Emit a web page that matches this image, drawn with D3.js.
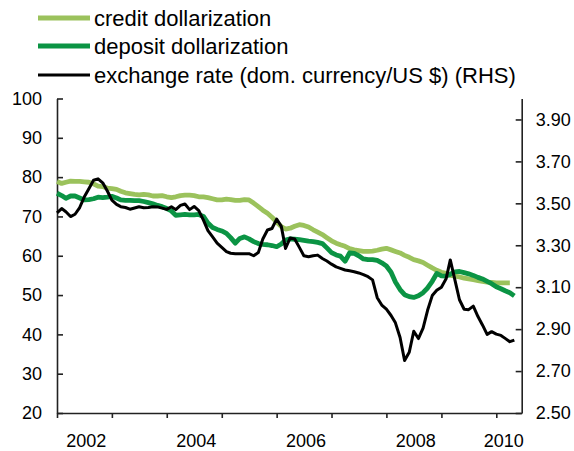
<!DOCTYPE html>
<html>
<head>
<meta charset="utf-8">
<script src="https://cdn.jsdelivr.net/npm/d3@7"></script>
<style>
    body { margin: 0; background: #fff; }
    text { font-family: "Liberation Sans", Arial, sans-serif; fill: #000; }
</style>
</head>
<body>
<svg id="chart" width="574" height="451"></svg>
<script>
(function (d3) {

    // monthly series, first value = Jan 2002
    var startMonth = new Date(2002, 0, 1);

    var creditDollarization = [
        78.9, 78.4, 78.7, 79.0, 78.9, 78.9, 78.8, 78.7, 78.3, 77.7,
        77.6, 77.2, 77.1, 76.9, 76.4, 76.0, 75.8, 75.6, 75.5, 75.6,
        75.5, 75.2, 75.2, 75.3, 75.0, 74.8, 75.0, 75.3, 75.4, 75.4,
        75.3, 75.0, 75.0, 74.8, 74.5, 74.2, 74.2, 74.4, 74.3, 74.1,
        74.1, 74.3, 74.2, 73.4, 72.5, 71.6, 70.8, 69.8, 68.6, 67.4,
        66.8, 67.0, 67.5, 67.9, 67.7, 67.3, 66.6, 66.0, 65.4, 64.6,
        63.8, 63.2, 62.8, 62.4, 61.8, 61.5, 61.3, 61.1, 61.1, 61.2,
        61.4, 61.7, 61.9, 61.5, 61.1, 60.7, 60.1, 59.6, 59.0, 58.7,
        58.3, 57.6, 56.9, 56.3, 55.8, 55.5, 55.0, 54.8, 54.6, 54.3,
        54.1, 53.9, 53.7, 53.5, 53.3, 53.2, 53.1, 53.1, 53.1, 53.1
    ];

    var depositDollarization = [
        75.9, 75.3, 74.6, 75.2, 75.2, 74.7, 74.2, 74.3, 74.5, 74.9,
        74.8, 74.9, 75.1, 74.7, 74.2, 74.1, 74.1, 74.0, 74.0, 73.8,
        73.5, 73.2, 72.8, 72.5, 72.0, 71.4, 70.3, 70.4, 70.5, 70.4,
        70.4, 70.5, 70.0, 68.3, 67.2, 66.7, 66.3, 65.7, 64.6, 63.2,
        64.4, 64.8, 64.3, 63.6, 63.1, 62.9, 62.8, 62.6, 62.3, 63.0,
        64.0, 64.3, 64.2, 64.1, 63.9, 63.7, 63.6, 63.4, 63.1, 62.0,
        60.8, 60.2, 59.9, 58.6, 60.7, 60.6, 60.0, 59.2, 59.0, 59.0,
        58.8, 58.2, 57.4, 55.8, 53.3, 51.4, 50.1, 49.6, 49.4, 49.8,
        50.6, 51.8, 53.5, 55.5, 54.9, 54.8, 55.3, 55.9, 56.0, 55.7,
        55.4, 55.0, 54.5, 54.1, 53.5, 52.9, 52.1, 51.6, 51.1, 50.6,
        49.8
    ];

    var exchangeRate = [
        3.455, 3.475, 3.46, 3.437, 3.448, 3.48, 3.53, 3.57, 3.61, 3.617,
        3.598, 3.56, 3.515, 3.495, 3.484, 3.48, 3.472, 3.478, 3.484, 3.479,
        3.48, 3.484, 3.483, 3.477, 3.471, 3.484, 3.47, 3.49, 3.497, 3.47,
        3.485, 3.465, 3.42, 3.37, 3.34, 3.31, 3.29, 3.27, 3.262, 3.26,
        3.26, 3.26, 3.26, 3.25, 3.265, 3.33, 3.373, 3.38, 3.425, 3.39,
        3.285, 3.335, 3.33, 3.29, 3.25, 3.245, 3.25, 3.253, 3.237, 3.225,
        3.21, 3.197, 3.19, 3.182, 3.178, 3.174, 3.168, 3.16, 3.15, 3.135,
        3.05, 3.015, 2.995, 2.965, 2.93, 2.86, 2.75, 2.79, 2.89, 2.855,
        2.905, 2.99, 3.06, 3.085, 3.1, 3.14, 3.23, 3.134, 3.04, 2.995,
        2.993, 3.01, 2.96, 2.92, 2.875, 2.888, 2.876, 2.87, 2.856, 2.84,
        2.848
    ];

    var leftTicks = [20, 30, 40, 50, 60, 70, 80, 90, 100];
    var rightTicks = [2.5, 2.7, 2.9, 3.1, 3.3, 3.5, 3.7, 3.9];
    var yearTicks = [2002, 2003, 2004, 2005, 2006, 2007, 2008, 2009, 2010];
    var yearLabels = [2002, 2004, 2006, 2008, 2010];

    var legendLabels = ['credit dollarization', 'deposit dollarization', 'exchange rate (dom. currency/US $) (RHS)'];
    var legendColors = ['#9bc25c', '#0b9444', '#000000'];
    var legendWidths = [4.8, 4.8, 3];

    var left = 57, right = 521.7, top = 98.5, bottom = 413;

    var svg = d3.select('#chart');

    var xScale = d3.scaleTime()
        .domain([startMonth, new Date(2010, 5, 19)])
        .range([left, right]);
    var yLeft = d3.scaleLinear().domain([20, 100]).range([bottom, top]);
    var yRight = d3.scaleLinear().domain([2.5, 4.0]).range([bottom, top]);

    function toPoints(values) {
        return values.map(function (v, i) {
            return { date: d3.timeMonth.offset(startMonth, i), value: v };
        });
    }

    // axes
    var xAxis = d3.axisBottom(xScale)
        .tickValues(yearTicks.map(function (y) { return new Date(y, 0, 1); }))
        .tickSizeInner(5)
        .tickSizeOuter(0)
        .tickFormat('');

    var leftAxis = d3.axisLeft(yLeft)
        .tickValues(leftTicks)
        .tickSizeInner(-6)
        .tickSizeOuter(0)
        .tickPadding(15);

    var rightAxis = d3.axisRight(yRight)
        .tickValues(rightTicks)
        .tickSizeInner(-6)
        .tickSizeOuter(0)
        .tickPadding(14)
        .tickFormat(d3.format('.2f'));

    svg.append('g')
        .attr('class', 'x axis')
        .attr('transform', 'translate(0,' + bottom + ')')
        .call(xAxis);

    svg.append('g')
        .attr('class', 'y axis')
        .attr('transform', 'translate(' + left + ',0)')
        .call(leftAxis);

    svg.append('g')
        .attr('class', 'y2 axis')
        .attr('transform', 'translate(' + right + ',0)')
        .call(rightAxis);

    svg.selectAll('.axis path, .axis line')
        .attr('stroke', '#222')
        .attr('stroke-width', 1.6);
    svg.selectAll('.axis text')
        .attr('font-size', 18)
        .attr('font-family', '"Liberation Sans", Arial, sans-serif')
        .attr('fill', '#000');

    svg.append('g')
        .selectAll('text')
        .data(yearLabels)
        .enter()
        .append('text')
        .attr('x', function (y) {
            return Math.min(xScale(new Date(y, 6, 15)), right - 18);
        })
        .attr('y', 447)
        .attr('text-anchor', 'middle')
        .attr('font-size', 18)
        .text(function (y) { return y; });

    // lines
    var leftLine = d3.line()
        .x(function (d) { return xScale(d.date); })
        .y(function (d) { return yLeft(d.value); });

    var rightLine = d3.line()
        .x(function (d) { return xScale(d.date); })
        .y(function (d) { return yRight(d.value); });

    var lines = svg.append('g').attr('fill', 'none').attr('stroke-linejoin', 'round');

    lines.append('path')
        .attr('d', leftLine(toPoints(creditDollarization)))
        .attr('stroke', legendColors[0])
        .attr('stroke-width', legendWidths[0]);

    lines.append('path')
        .attr('d', leftLine(toPoints(depositDollarization)))
        .attr('stroke', legendColors[1])
        .attr('stroke-width', legendWidths[1]);

    lines.append('path')
        .attr('d', rightLine(toPoints(exchangeRate)))
        .attr('stroke', legendColors[2])
        .attr('stroke-width', legendWidths[2]);

    // legend
    var legend = svg.append('g');
    var rowY = [18, 46, 75];

    legendLabels.forEach(function (label, i) {
        legend.append('line')
            .attr('x1', 38)
            .attr('x2', 90)
            .attr('y1', rowY[i])
            .attr('y2', rowY[i])
            .attr('stroke', legendColors[i])
            .attr('stroke-width', legendWidths[i]);
        legend.append('text')
            .attr('x', 94)
            .attr('y', rowY[i])
            .attr('dy', '0.35em')
            .attr('font-size', 22)
            .text(label);
    });

})(d3);
</script>
</body>
</html>
